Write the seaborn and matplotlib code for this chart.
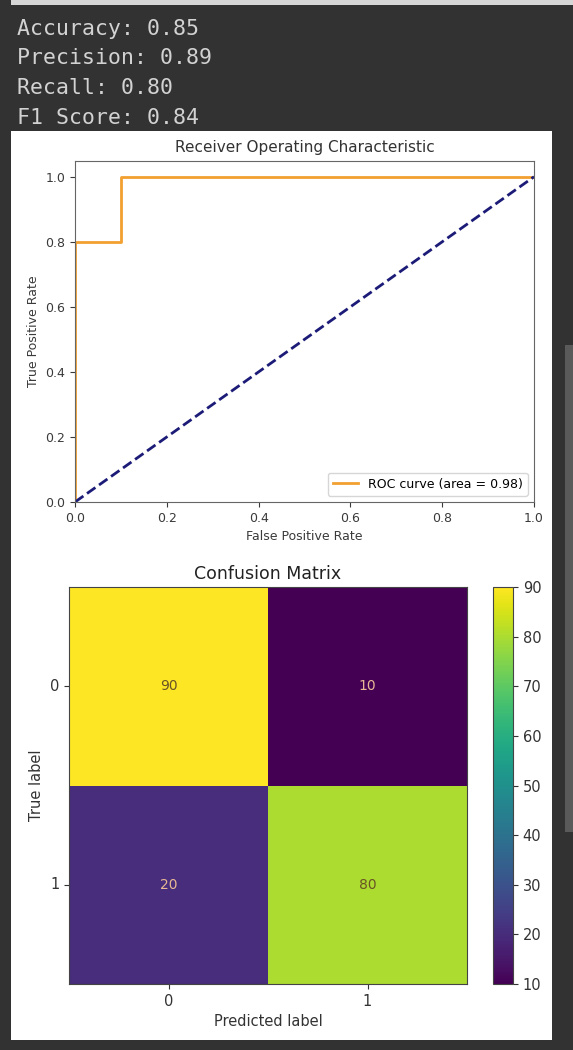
import numpy as np
import pandas as pd
import matplotlib
matplotlib.use("Agg")
import matplotlib.pyplot as plt
import seaborn as sns
from matplotlib.patches import Rectangle

# ---------------- data ----------------
metric_names = ["Accuracy", "Precision", "Recall", "F1 Score"]
metric_values = [0.85, 0.89, 0.80, 0.84]

fpr = [0.0, 0.0, 0.1, 0.1, 1.0]
tpr = [0.0, 0.8, 0.8, 1.0, 1.0]
roc_auc = 0.98
chance_x = [0.0, 1.0]
chance_y = [0.0, 1.0]
roc_ticks = [0.0, 0.2, 0.4, 0.6, 0.8, 1.0]

class_labels = ["0", "1"]
cm_values = [[90, 10], [20, 80]]
cbar_ticks = [10, 20, 30, 40, 50, 60, 70, 80, 90]

# ---------------- layout helpers ----------------
W, H = 573, 1050
BG = "#323232"
fig = plt.figure(figsize=(W / 100, H / 100), dpi=100, facecolor=BG)


def box(l, t, r, b):
    return [l / W, 1 - b / H, (r - l) / W, (b - t) / H]


def rect(l, t, r, b, color):
    fig.patches.append(Rectangle((l / W, 1 - b / H), (r - l) / W, (b - t) / H,
                                 transform=fig.transFigure, facecolor=color,
                                 edgecolor="none", zorder=-10))


rect(11, 131, 552, 1040, "white")       # output panel
rect(11, 0, 573, 5, "#d6d6d6")          # top strip
rect(565, 345, 573, 832, "#5a5a5a")     # scrollbar

# printed metrics (notebook stdout)
for i, (n, v) in enumerate(zip(metric_names, metric_values)):
    fig.text(17 / W, 1 - (35 + 29.5 * i) / H, f"{n}: {v:.2f}",
             family="DejaVu Sans Mono", fontsize=15.5, color="#d2d2d2",
             va="baseline", ha="left")

# ---------------- ROC curve ----------------
ax1 = fig.add_axes(box(75, 160.5, 534, 502))
roc_df = pd.DataFrame({"fpr": fpr, "tpr": tpr})
sns.lineplot(data=roc_df, x="fpr", y="tpr", ax=ax1, color="#f2a030", lw=2,
             sort=False, estimator=None, label=f"ROC curve (area = {roc_auc:.2f})")
sns.lineplot(x=chance_x, y=chance_y, ax=ax1, color="#1c1c78", lw=2, linestyle="--",
             sort=False, estimator=None)
ax1.set_xlim(0.0, 1.0)
ax1.set_ylim(0.0, 1.05)
ax1.set_xticks(roc_ticks)
ax1.set_yticks(roc_ticks)
ax1.tick_params(labelsize=9, colors="#3a3a3a")
ax1.set_xlabel("False Positive Rate", fontsize=9, color="#3a3a3a")
ax1.set_ylabel("True Positive Rate", fontsize=9, color="#3a3a3a")
ax1.set_title("Receiver Operating Characteristic", fontsize=11, color="#333333")
ax1.legend(loc="lower right", fontsize=9)
for s in ax1.spines.values():
    s.set_color("#666666")

# ---------------- Confusion matrix ----------------
ax2 = fig.add_axes(box(69, 587, 467, 984))
cax = fig.add_axes(box(493, 587, 513, 984))
cm_df = pd.DataFrame(cm_values, index=class_labels, columns=class_labels)
sns.heatmap(cm_df, ax=ax2, cbar_ax=cax, cmap="viridis", annot=True, fmt="d",
            annot_kws={"fontsize": 10}, cbar_kws={"ticks": cbar_ticks})
vals = np.array(cm_values)
thresh = (vals.max() + vals.min()) / 2
for t in ax2.texts:
    v = int(t.get_text())
    t.set_color("#e8b894" if v < thresh else "#6a5426")
for s in ax2.spines.values():
    s.set_visible(True)
    s.set_linewidth(0.8)
    s.set_color("#444444")
ax2.tick_params(labelsize=10.5, length=3.5, colors="#333333")
ax2.set_yticklabels(class_labels, rotation=0)
ax2.set_xticklabels(class_labels, rotation=0)
ax2.set_xlabel("Predicted label", fontsize=10.5, color="#333333")
ax2.set_ylabel("True label", fontsize=10.5, color="#333333")
ax2.set_title("Confusion Matrix", fontsize=12.5, color="#222222")
cb = ax2.collections[0].colorbar
cb.outline.set_visible(True)
cb.outline.set_linewidth(0.8)
cb.outline.set_edgecolor("#444444")
cb.ax.tick_params(labelsize=10.5, colors="#333333")

fig.savefig("out.png", dpi=100, facecolor=BG)
